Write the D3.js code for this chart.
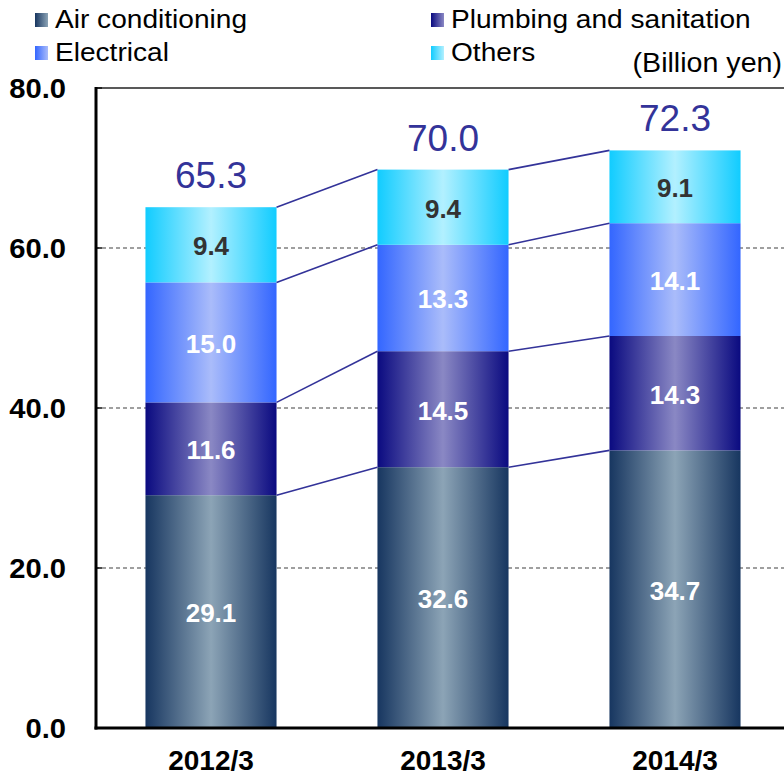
<!DOCTYPE html>
<html>
<head>
<meta charset="utf-8">
<script src="https://cdn.jsdelivr.net/npm/d3@7"></script>
<style>
  html, body { margin: 0; padding: 0; background: #fff; }
  svg { display: block; font-family: "Liberation Sans", Arial, sans-serif; }
</style>
</head>
<body>
<svg id="chart" width="784" height="775"></svg>
<script>
// Sales by business segment (billion yen)
const categories = ["2012/3", "2013/3", "2014/3"];
const seriesNames = ["Air conditioning", "Plumbing and sanitation", "Electrical", "Others"];
const airConditioning = [29.1, 32.6, 34.7];
const plumbing = [11.6, 14.5, 14.3];
const electrical = [15.0, 13.3, 14.1];
const others = [9.4, 9.4, 9.1];
const totals = ["65.3", "70.0", "72.3"];
const yTicks = [0, 20, 40, 60, 80];

const seriesValues = [airConditioning, plumbing, electrical, others];
const edgeColors = ["#173660", "#0a0a80", "#3366ff", "#11ccff"];
const centerColors = ["#8ca4b6", "#8a88c4", "#aabcfa", "#b2f0ff"];
const valueColors = ["#ffffff", "#ffffff", "#ffffff", "#333333"];

const svg = d3.select("#chart");
const W = 784;
const plotLeft = 95, plotTop = 88, plotBottom = 728;

const y = d3.scaleLinear().domain([0, 80]).range([plotBottom, plotTop]);
const x = d3.scaleBand().domain(categories).range([95, 791])
  .paddingInner(0.435).paddingOuter(0.2175);
const bw = x.bandwidth();

// stacked layout
const rows = categories.map((c, i) => {
  const r = { cat: c };
  seriesNames.forEach((s, k) => { r[s] = seriesValues[k][i]; });
  return r;
});
const stacked = d3.stack().keys(seriesNames)(rows);

// gradients
const defs = svg.append("defs");
seriesNames.forEach((s, k) => {
  const g = defs.append("linearGradient").attr("id", "bar" + k)
    .attr("x1", "0%").attr("x2", "100%").attr("y1", "0%").attr("y2", "0%");
  g.append("stop").attr("offset", "0%").attr("stop-color", edgeColors[k]);
  g.append("stop").attr("offset", "50%").attr("stop-color", centerColors[k]);
  g.append("stop").attr("offset", "100%").attr("stop-color", edgeColors[k]);
  const m = defs.append("linearGradient").attr("id", "mark" + k)
    .attr("x1", "0%").attr("x2", "100%").attr("y1", "0%").attr("y2", "0%");
  m.append("stop").attr("offset", "0%").attr("stop-color", edgeColors[k]);
  m.append("stop").attr("offset", "100%").attr("stop-color", centerColors[k]);
});

// gridlines
svg.append("g").selectAll("line").data(yTicks.filter(t => t > 0 && t < 80)).join("line")
  .attr("x1", plotLeft).attr("x2", W)
  .attr("y1", d => y(d)).attr("y2", d => y(d))
  .attr("stroke", "#808080").attr("stroke-width", 1.3).attr("stroke-dasharray", "4,3");
svg.append("line").attr("x1", plotLeft).attr("x2", W)
  .attr("y1", y(80)).attr("y2", y(80))
  .attr("stroke", "#222").attr("stroke-width", 1.6);

// bars
const layers = svg.append("g").selectAll("g").data(stacked).join("g")
  .attr("fill", (d, k) => `url(#bar${k})`);
layers.selectAll("rect").data(d => d).join("rect")
  .attr("x", d => x(d.data.cat)).attr("width", bw)
  .attr("y", d => y(d[1])).attr("height", d => y(d[0]) - y(d[1]));

// connector lines between adjacent bars
const conn = svg.append("g").attr("stroke", "#333399").attr("stroke-width", 1.6);
stacked.forEach(layer => {
  for (let i = 0; i < categories.length - 1; i++) {
    conn.append("line")
      .attr("x1", x(categories[i]) + bw).attr("y1", y(layer[i][1]))
      .attr("x2", x(categories[i + 1])).attr("y2", y(layer[i + 1][1]));
  }
});

// segment value labels
stacked.forEach((layer, k) => {
  svg.append("g").selectAll("text").data(layer).join("text")
    .attr("x", d => x(d.data.cat) + bw / 2)
    .attr("y", d => (y(d[0]) + y(d[1])) / 2)
    .attr("dy", "0.4em")
    .attr("text-anchor", "middle")
    .attr("font-size", 26).attr("font-weight", "bold")
    .attr("fill", valueColors[k])
    .text(d => (d[1] - d[0]).toFixed(1));
});

// totals above bars
const topLayer = stacked[stacked.length - 1];
svg.append("g").selectAll("text").data(topLayer).join("text")
  .attr("x", d => x(d.data.cat) + bw / 2)
  .attr("y", d => y(d[1]) - 19)
  .attr("text-anchor", "middle")
  .attr("font-size", 37).attr("fill", "#333399")
  .text((d, i) => totals[i]);

// y axis
svg.append("g").selectAll("line").data(yTicks.filter(t => t > 0)).join("line")
  .attr("x1", plotLeft).attr("x2", plotLeft + 7)
  .attr("y1", d => y(d)).attr("y2", d => y(d))
  .attr("stroke", "#111").attr("stroke-width", 1.5);
svg.append("line").attr("x1", 96).attr("x2", 96)
  .attr("y1", plotTop - 1).attr("y2", plotBottom + 1.5)
  .attr("stroke", "#000").attr("stroke-width", 3);
svg.append("line").attr("x1", 94.5).attr("x2", W)
  .attr("y1", plotBottom).attr("y2", plotBottom)
  .attr("stroke", "#000").attr("stroke-width", 3);
svg.append("g").selectAll("text").data(yTicks).join("text")
  .attr("transform", d => `translate(66,${y(d)}) scale(1.08,1)`)
  .attr("dy", "0.36em")
  .attr("text-anchor", "end")
  .attr("font-size", 27).attr("font-weight", "bold").attr("fill", "#000")
  .text(d => d.toFixed(1));

// x axis labels
svg.append("g").selectAll("text").data(categories).join("text")
  .attr("x", d => x(d) + bw / 2).attr("y", 770)
  .attr("text-anchor", "middle")
  .attr("font-size", 28).attr("font-weight", "bold").attr("fill", "#000")
  .text(d => d);

// legend
const legendPos = [[35, 28], [431, 28], [35, 61], [431, 61]];
seriesNames.forEach((s, k) => {
  const [lx, ly] = legendPos[k];
  svg.append("rect").attr("x", lx).attr("y", ly - 15).attr("width", 13).attr("height", 14)
    .attr("fill", `url(#mark${k})`);
  svg.append("text").attr("transform", `translate(${lx + 20},${ly}) scale(1.06,1)`)
    .attr("font-size", 26.5).attr("fill", "#000").text(s);
});

// unit label
svg.append("text").attr("transform", "translate(782,72) scale(1.06,1)")
  .attr("text-anchor", "end")
  .attr("font-size", 27).attr("fill", "#000").text("(Billion yen)");
</script>
</body>
</html>
